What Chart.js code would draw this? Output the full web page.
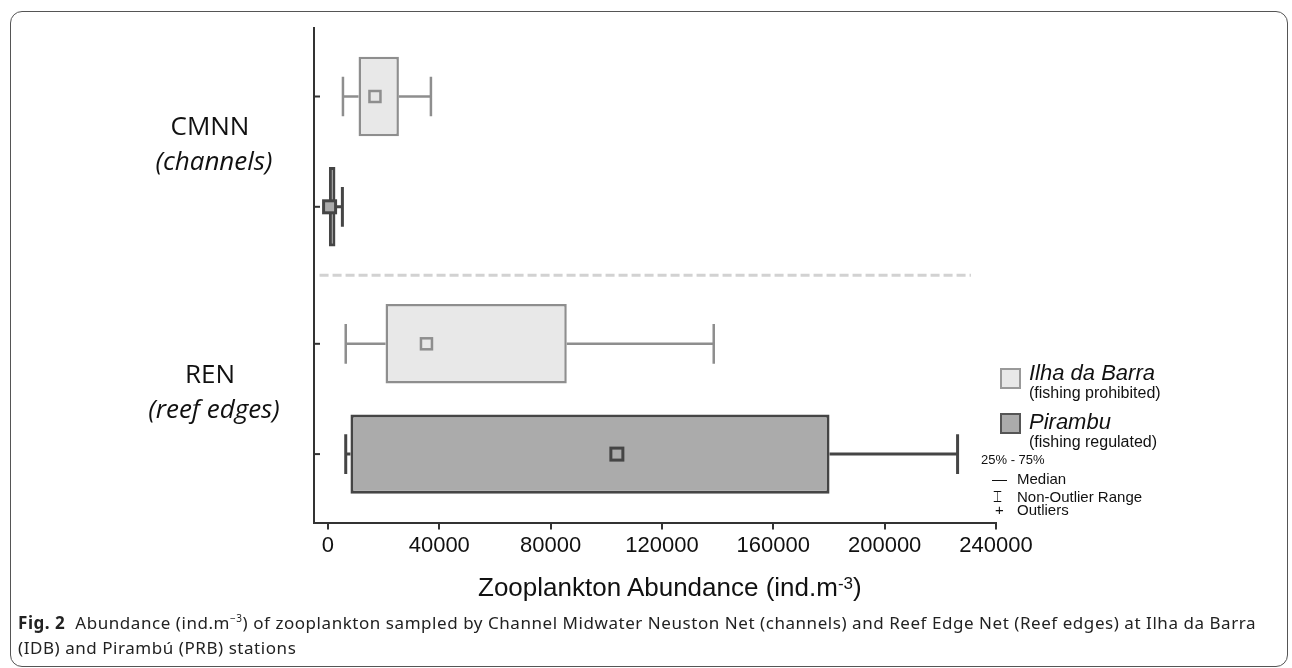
<!DOCTYPE html>
<html>
<head>
<meta charset="utf-8">
<script src="https://cdn.jsdelivr.net/npm/chart.js@4.4.0/dist/chart.umd.min.js"></script>
<style>
  html, body { margin: 0; padding: 0; background: #fff; }
  #wrap { position: relative; width: 1292px; height: 668px; overflow: hidden; }
  #frame { position: absolute; left: 10px; top: 11px; width: 1278px; height: 656px; box-sizing: border-box;
           border: 1.5px solid #555; border-radius: 12px; }
  #chart { position: absolute; left: 0; top: 0; }
  .t { position: absolute; white-space: nowrap; color: #111; }
  .grp { font-family: 'Open Sans', sans-serif; font-size: 26px; line-height: 30px; width: 220px; text-align: center; }
  .leg { font-family: 'Liberation Sans', Arial, sans-serif; }
  .sw { position: absolute; width: 21px; height: 21px; box-sizing: border-box; }
  #xtitle { font-family: 'Liberation Sans', Arial, sans-serif; font-size: 26px; line-height: 30px; }
  #xtitle sup { font-size: 17px; position: relative; top: -3px; vertical-align: top; }
  #caption { font-family: 'Noto Sans', sans-serif; font-size: 17px; letter-spacing: 0.55px; line-height: 25px; color: #222; left: 18px; top: 610px; }
  #caption sup { font-size: 10px; vertical-align: top; position: relative; top: -4px; }
</style>
</head>
<body>
<div id="wrap">
  <div id="frame"></div>
  <canvas id="chart" width="1292" height="668"></canvas>

  <div class="t grp" style="left:100px; top:110px;">CMNN</div>
  <div class="t grp" style="left:104px; top:145px;"><i>(channels)</i></div>
  <div class="t grp" style="left:100px; top:358px;">REN</div>
  <div class="t grp" style="left:104px; top:393px;"><i>(reef edges)</i></div>

  <div class="sw" style="left:1000px; top:368px; background:#e8e8e8; border:2px solid #999;"></div>
  <div class="t leg" style="left:1029px; top:359px; font-size:22px; line-height:27px;"><i>Ilha da Barra</i></div>
  <div class="t leg" style="left:1029px; top:383px; font-size:16px; line-height:19px;">(fishing prohibited)</div>
  <div class="sw" style="left:1000px; top:413px; background:#ababab; border:2.5px solid #555;"></div>
  <div class="t leg" style="left:1029px; top:408px; font-size:22px; line-height:27px;"><i>Pirambu</i></div>
  <div class="t leg" style="left:1029px; top:432px; font-size:16px; line-height:19px;">(fishing regulated)</div>
  <div class="t leg" style="left:981px; top:451px; font-size:13px; line-height:18px;">25% - 75%</div>
  <div class="t leg" style="left:992px; top:470px; font-size:15px; line-height:18px;">&#8212;</div>
  <div class="t leg" style="left:1017px; top:470px; font-size:15px; line-height:18px;">Median</div>
  <div class="t leg" style="left:993px; top:488px; font-family:'DejaVu Sans'; font-size:15px; line-height:18px;">&#9014;</div>
  <div class="t leg" style="left:1017px; top:488px; font-size:15px; line-height:18px;">Non-Outlier Range</div>
  <div class="t leg" style="left:995px; top:501px; font-size:15px; line-height:18px;">+</div>
  <div class="t leg" style="left:1017px; top:501px; font-size:15px; line-height:18px;">Outliers</div>

  <div id="xtitle" class="t" style="left:478px; top:572px;">Zooplankton Abundance (ind.m<sup>-3</sup>)</div>

  <div id="caption" class="t"><b>Fig. 2</b>&nbsp; Abundance (ind.m<sup>&minus;3</sup>) of zooplankton sampled by Channel Midwater Neuston Net (channels) and Reef Edge Net (Reef edges) at Ilha da Barra<br>(IDB) and Pirambú (PRB) stations</div>
</div>

<script>
// 値は図から読み取り
var groups = ['CMNN', 'REN'];
var stations = ['Ilha da Barra', 'Pirambu'];

var ilhaLow = [5400, 6400];
var ilhaQ1 = [11000, 20700];
var ilhaQ3 = [25500, 85800];
var ilhaHigh = [37000, 138600];
var ilhaMean = [16900, 35400];

var piraLow = [0, 6400];
var piraQ1 = [0, 8100];
var piraQ3 = [2700, 180200];
var piraHigh = [5200, 226200];
var piraMean = [600, 103800];

var xTicks = [0, 40000, 80000, 120000, 160000, 200000, 240000];

var fills = ['#e8e8e8', '#ababab'];
var lines = ['#8e8e8e', '#454545'];

var whiskers = [
  { low: ilhaLow, q1: ilhaQ1, q3: ilhaQ3, high: ilhaHigh, mean: ilhaMean },
  { low: piraLow, q1: piraQ1, q3: piraQ3, high: piraHigh, mean: piraMean }
];

/**
ひげ・平均・区切り線を描く
*/
var boxExtras = {
  id: 'boxExtras',
  beforeDatasetsDraw: function(chart) {
    var ctx = chart.ctx;
    var xs = chart.scales.x;
    var ys = chart.scales.y;
    // dashed separator between the two nets
    var ySep = (ys.getPixelForValue(0) + ys.getPixelForValue(1)) / 2;
    ctx.save();
    ctx.strokeStyle = '#d2d2d2';
    ctx.lineWidth = 3;
    ctx.setLineDash([9, 4]);
    ctx.beginPath();
    ctx.moveTo(xs.getPixelForValue(-3000), ySep);
    ctx.lineTo(xs.getPixelForValue(231000), ySep);
    ctx.stroke();
    ctx.setLineDash([]);

    whiskers.forEach(function(w, i) {
      var meta = chart.getDatasetMeta(i);
      ctx.strokeStyle = lines[i];
      ctx.lineWidth = i == 0 ? 2.5 : 3;
      meta.data.forEach(function(bar, j) {
        var y = bar.y;
        var cap = bar.height * 0.25;
        var xl = xs.getPixelForValue(w.low[j]);
        var x1 = xs.getPixelForValue(w.q1[j]);
        var x3 = xs.getPixelForValue(w.q3[j]);
        var xh = xs.getPixelForValue(w.high[j]);
        ctx.beginPath();
        ctx.moveTo(xl, y); ctx.lineTo(x1, y);
        ctx.moveTo(x3, y); ctx.lineTo(xh, y);
        if (w.low[j] > 0) { ctx.moveTo(xl, y - cap); ctx.lineTo(xl, y + cap); }
        ctx.moveTo(xh, y - cap); ctx.lineTo(xh, y + cap);
        ctx.stroke();
      });
    });
    ctx.restore();
  },
  afterDatasetsDraw: function(chart) {
    var ctx = chart.ctx;
    var xs = chart.scales.x;
    var area = chart.chartArea;
    ctx.save();
    whiskers.forEach(function(w, i) {
      var meta = chart.getDatasetMeta(i);
      meta.data.forEach(function(bar, j) {
        var x = xs.getPixelForValue(w.mean[j]);
        var s = i == 0 ? 11 : 12;
        ctx.fillStyle = fills[i];
        ctx.strokeStyle = lines[i];
        ctx.lineWidth = i == 0 ? 2.5 : 3;
        ctx.fillRect(x - s / 2, bar.y - s / 2, s, s);
        ctx.strokeRect(x - s / 2, bar.y - s / 2, s, s);
        // y軸の目盛り
        ctx.strokeStyle = '#333';
        ctx.lineWidth = 2;
        ctx.beginPath();
        ctx.moveTo(area.left, bar.y);
        ctx.lineTo(area.left + 6, bar.y);
        ctx.stroke();
      });
    });
    ctx.restore();
  }
};

function drawChart() {
  var config = {
    type: 'bar',
    data: {
      labels: groups,
      datasets: [{
        label: stations[0],
        data: groups.map(function(g, j) { return [ilhaQ1[j], ilhaQ3[j]]; }),
        backgroundColor: fills[0],
        borderColor: lines[0],
        borderWidth: 2.5,
        borderSkipped: false
      }, {
        label: stations[1],
        data: groups.map(function(g, j) { return [piraQ1[j], piraQ3[j]]; }),
        backgroundColor: fills[1],
        borderColor: lines[1],
        borderWidth: 3,
        borderSkipped: false
      }]
    },
    options: {
      indexAxis: 'y',
      responsive: false,
      animation: false,
      categoryPercentage: 0.892,
      barPercentage: 0.72,
      layout: { padding: { left: 314, right: 296, top: 28, bottom: 106 } },
      plugins: { legend: { display: false }, tooltip: { enabled: false } },
      scales: {
        x: {
          type: 'linear',
          min: -5000,
          max: 240000,
          afterBuildTicks: function(scale) {
            scale.ticks = xTicks.map(function(v) { return { value: v }; });
          },
          ticks: {
            callback: function(v) { return String(v); },
            font: { family: 'Liberation Sans', size: 22 },
            color: '#111',
            padding: 3,
            maxRotation: 0
          },
          grid: { display: true, drawOnChartArea: false, drawTicks: true, tickLength: 7, color: '#333', lineWidth: 2 },
          border: { display: true, color: '#333', width: 2 }
        },
        y: {
          ticks: { display: false },
          grid: { display: false, drawTicks: false },
          border: { display: true, color: '#333', width: 2 }
        }
      }
    },
    plugins: [boxExtras]
  };
  var ctx = document.getElementById('chart').getContext('2d');
  window.myChart = new Chart(ctx, config);
}

drawChart();
</script>
</body>
</html>
